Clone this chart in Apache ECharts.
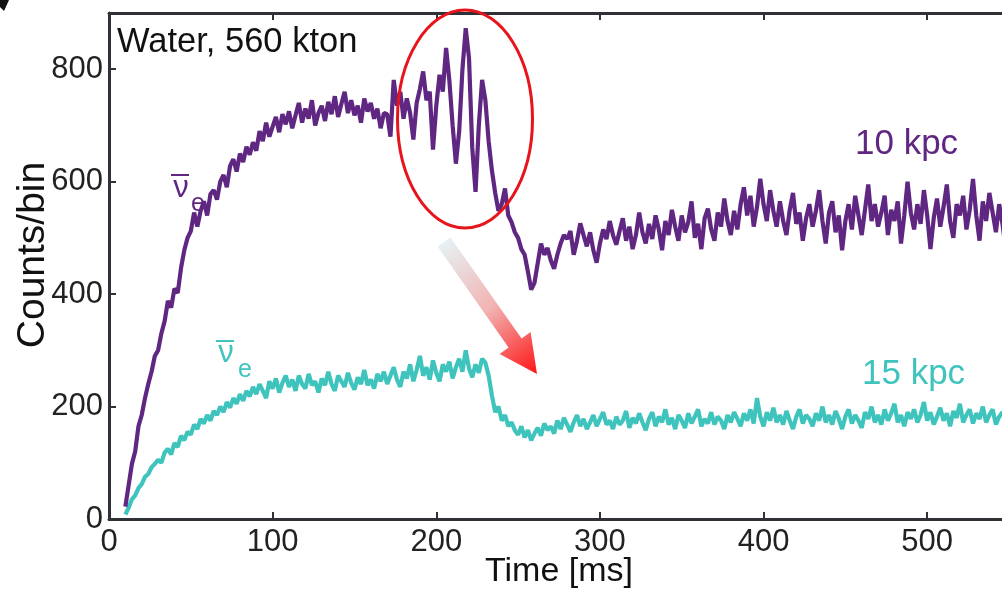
<!DOCTYPE html>
<html><head><meta charset="utf-8">
<script src="https://cdn.jsdelivr.net/npm/echarts@6/dist/echarts.min.js"></script>
<style>html,body{margin:0;padding:0;background:#fff}#c{width:1002px;height:590px}</style>
</head><body><div id="c"></div>
<script>
// Bin grid (ms): first bin centre and bin width
const binStart = 10, binWidth = 2;
const xTicks = [0, 100, 200, 300, 400, 500];
const yTicks = [0, 200, 400, 600, 800];
// 10 kpc, counts per bin
const counts10 = [
 22,60,98,120,165,185,215,240,262,290,
 300,330,352,388,376,410,402,446,478,500,
 512,545,520,548,565,540,578,585,568,600,
 612,590,628,640,618,650,635,662,648,670,
 655,690,672,705,680,698,715,688,720,702,
 725,695,718,740,705,730,712,745,700,722,
 735,708,742,720,752,715,738,760,722,745,
 718,735,705,748,725,740,712,730,695,722,
 720,680,781,735,760,712,748,722,675,740,
 765,796,745,760,657,735,790,760,838,780,
 700,632,690,800,873,820,660,582,700,781,
 745,672,620,580,548,560,588,540,528,510,
 500,480,470,440,408,420,455,490,470,482,
 460,445,470,490,505,498,512,470,495,526,
 505,485,510,478,456,490,515,498,530,505,
 488,512,535,495,520,480,505,545,510,490,
 525,498,540,515,478,530,505,550,520,495,
 540,510,528,565,500,525,480,535,552,515,
 495,545,520,570,530,505,548,515,560,590,
 540,575,520,555,605,560,530,585,548,520,
 565,530,505,550,580,525,545,495,535,560,
 520,548,585,530,490,545,565,510,540,478,
 530,560,515,575,540,505,550,595,530,560,
 520,545,575,505,550,530,565,490,540,600,
 545,515,560,525,585,540,480,535,570,520,
 555,595,530,500,560,540,575,515,550,605,
 540,495,565,530,580,545,510,560,525,480
];
// 15 kpc, counts per bin
const counts15 = [
 8,20,35,42,55,62,75,80,92,98,
 105,100,118,125,115,135,128,148,140,155,
 150,168,160,178,170,185,175,192,185,200,
 190,208,198,215,205,222,210,228,218,235,
 222,240,228,215,245,232,250,225,242,255,
 235,248,228,255,240,232,258,238,245,225,
 250,238,262,240,228,255,245,235,260,242,
 230,252,240,265,238,248,232,258,245,262,
 240,255,270,248,235,262,250,275,245,265,
 290,255,270,248,282,260,245,275,262,280,
 250,270,285,262,300,268,252,275,260,285,
 278,255,220,190,200,175,185,165,172,158,
 150,165,145,158,140,152,162,148,170,158,
 165,152,175,160,180,168,155,172,185,165,
 178,160,172,185,165,178,190,168,175,160,
 182,168,175,192,162,180,170,188,172,158,
 178,190,165,182,172,195,168,180,160,185,
 175,162,188,170,182,195,165,178,170,190,
 168,182,175,160,185,172,190,178,165,188,
 175,195,170,215,182,165,190,175,198,172,
 185,168,192,175,160,182,195,170,185,178,
 165,188,175,200,172,185,168,192,178,160,
 182,195,170,185,175,162,190,178,200,172,
 185,168,195,175,188,205,172,185,165,190,
 178,195,172,185,208,175,190,168,182,198,
 175,188,165,192,180,205,172,185,195,170,
 188,178,200,172,185,195,168,182,190,178
];
const purple = '#5f2782', cyan = '#3fc4bd';
const toPts = arr => arr.map((v, i) => [binStart + i * binWidth, v]);

const chart = echarts.init(document.getElementById('c'), null, {renderer: 'canvas'});
const font = 'Liberation Sans, Arial, Helvetica, sans-serif';
const axisCol = '#2f3137';
const baseX = {
  type: 'value', min: 0, max: 550, interval: 100,
  axisLine: {show: true, onZero: false, lineStyle: {color: axisCol, width: 3}},
  axisTick: {show: true, inside: true, length: 7, lineStyle: {color: axisCol, width: 2}},
  splitLine: {show: false}
};
const baseY = {
  type: 'value', min: 0, max: 900, interval: 200,
  axisLine: {show: true, onZero: false, lineStyle: {color: axisCol, width: 3}},
  axisTick: {show: true, inside: true, length: 7, lineStyle: {color: axisCol, width: 2}},
  splitLine: {show: false}
};
chart.setOption({
  animation: false,
  textStyle: {fontFamily: font},
  grid: {left: 109, right: -7, top: 13, bottom: 71, containLabel: false, outerBoundsMode: 'none'},
  xAxis: [
    Object.assign({}, baseX, {position: 'bottom',
      axisLabel: {show: true, fontSize: 31, color: '#222', margin: 8, fontFamily: font, showMaxLabel: false,
        formatter: v => xTicks.includes(v) ? String(v) : ''}}),
    Object.assign({}, baseX, {position: 'top', axisLabel: {show: false}})
  ],
  yAxis: [
    Object.assign({}, baseY, {position: 'left',
      axisLabel: {show: true, fontSize: 31, color: '#222', margin: 6, fontFamily: font, showMaxLabel: false,
        formatter: v => yTicks.includes(v) ? String(v) : ''}}),
    Object.assign({}, baseY, {position: 'right', axisLabel: {show: false}})
  ],
  series: [
    {type: 'line', name: '10 kpc', xAxisIndex: 0, yAxisIndex: 0, data: toPts(counts10),
     showSymbol: false, lineStyle: {color: purple, width: 4.2}, itemStyle: {color: purple}, z: 3},
    {type: 'line', name: '15 kpc', xAxisIndex: 0, yAxisIndex: 0, data: toPts(counts15),
     showSymbol: false, lineStyle: {color: cyan, width: 4.2}, itemStyle: {color: cyan}, z: 2}
  ],
  graphic: [
    {type: 'polygon', shape: {points: [[0,0],[9,0],[4,11],[0,7]]}, style: {fill: '#111'}},
    {type: 'text', x: 33, y: 255, rotation: Math.PI / 2,
     style: {text: 'Counts/bin', font: '39px ' + font, fill: '#111', align: 'center', verticalAlign: 'middle'}},
    {type: 'text', x: 559, y: 572,
     style: {text: 'Time [ms]', font: '34px ' + font, fill: '#111', align: 'center', verticalAlign: 'middle'}},
    {type: 'text', left: 117, top: 25, style: {text: 'Water, 560 kton', font: '34.5px ' + font, fill: '#111'}},
    {type: 'text', left: 855, top: 127, style: {text: '10 kpc', font: '35px ' + font, fill: purple}},
    {type: 'text', left: 862, top: 357, style: {text: '15 kpc', font: '35px ' + font, fill: cyan}},
    // purple nu-bar e
    {type: 'text', x: 181, y: 188, style: {text: 'ν', font: '31px ' + font, fill: purple, align: 'center', verticalAlign: 'middle'}},
    {type: 'line', shape: {x1: 171, y1: 175, x2: 189, y2: 175}, style: {stroke: purple, lineWidth: 2}},
    {type: 'text', x: 198, y: 204, style: {text: 'e', font: '25px ' + font, fill: purple, align: 'center', verticalAlign: 'middle'}},
    // cyan nu-bar e
    {type: 'text', x: 226, y: 353, style: {text: 'ν', font: '31px ' + font, fill: cyan, align: 'center', verticalAlign: 'middle'}},
    {type: 'line', shape: {x1: 216, y1: 341, x2: 234, y2: 341}, style: {stroke: cyan, lineWidth: 2}},
    {type: 'text', x: 245, y: 370, style: {text: 'e', font: '25px ' + font, fill: cyan, align: 'center', verticalAlign: 'middle'}},
    // red ellipse
    {type: 'ellipse', shape: {cx: 465, cy: 119, rx: 67.5, ry: 109}, style: {fill: 'none', stroke: '#e8141c', lineWidth: 3}, z: 10},
    // gradient arrow
    {type: 'polygon', z: 10, shape: {points: [[437.5,246.6],[508.6,347.6],[499.6,353.9],[537,374],[530.6,332.1],[521.6,338.4],[450.5,237.4]]},
     style: {fill: new echarts.graphic.LinearGradient(444, 242, 537, 374, [
       {offset: 0, color: '#e6f1f3'}, {offset: 0.5, color: '#f2b3b3'}, {offset: 1, color: '#ff1414'}], true)}}
  ]
});
</script></body></html>
